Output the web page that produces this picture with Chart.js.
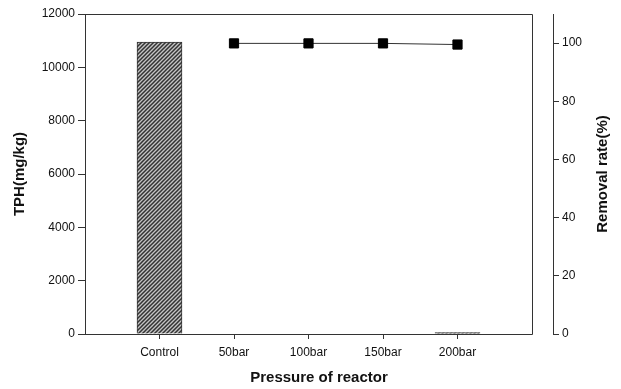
<!DOCTYPE html>
<html lang="en">
<head>
    <meta charset="UTF-8">
    <title>TPH and removal rate</title>
    <style>
        * {
            margin: 0;
            padding: 0;
        }

        body {
            background: #fff;
        }
    </style>
</head>
<body>
    <canvas id="chart" width="621" height="389"></canvas>

    <script src="https://cdn.jsdelivr.net/npm/chart.js"></script>
    <script>
        // Data
        const categories = ['Control', '50bar', '100bar', '150bar', '200bar'];
        const tph = [10950, 0, 0, 0, 50];
        const removalRate = [null, 99.9, 99.9, 99.9, 99.5];
        const tphTicks = [0, 2000, 4000, 6000, 8000, 10000, 12000];
        const rateTicks = [0, 20, 40, 60, 80, 100];
        const rightTitle = 'Removal rate(%)';

        const axisColor = '#333';
        const fontFamily = "'Liberation Sans', Arial, sans-serif";
        const font = { family: fontFamily, size: 12 };
        const titleFont = { family: fontFamily, size: 15, weight: 'bold' };

        // x runs 0..6 inside the frame, the right axis sits a little further out
        const frameMax = 6;
        const xMax = frameMax * 468 / 447;

        // hatch for the bars
        function makeHatch() {
            const c = document.createElement('canvas');
            c.width = 4;
            c.height = 4;
            const g = c.getContext('2d');
            g.fillStyle = '#c4c4c4';
            g.fillRect(0, 0, 4, 4);
            g.strokeStyle = '#333';
            g.lineWidth = 1.5;
            g.beginPath();
            g.moveTo(0, 4); g.lineTo(4, 0);
            g.moveTo(-1, 1); g.lineTo(1, -1);
            g.moveTo(3, 5); g.lineTo(5, 3);
            g.stroke();
            return document.getElementById('chart').getContext('2d').createPattern(c, 'repeat');
        }

        // box around the plot (bottom, right, top) and the right axis title
        const framePlugin = {
            id: 'frame',
            afterDatasetsDraw(chart) {
                const ctx = chart.ctx;
                const xs = chart.scales.x;
                const area = chart.chartArea;
                const x0 = Math.round(xs.getPixelForValue(0)) + 0.5;
                const x1 = Math.round(xs.getPixelForValue(frameMax)) + 0.5;
                const top = Math.round(area.top) + 0.5;
                const bottom = Math.round(area.bottom) + 0.5;
                ctx.save();
                ctx.strokeStyle = axisColor;
                ctx.lineWidth = 1;
                ctx.beginPath();
                ctx.moveTo(x0, bottom);
                ctx.lineTo(x1, bottom);
                ctx.lineTo(x1, top);
                ctx.lineTo(x0, top);
                ctx.stroke();

                const y1 = chart.scales.y1;
                ctx.translate(y1.right - 18, (area.top + area.bottom) / 2);
                ctx.rotate(-Math.PI / 2);
                ctx.fillStyle = '#111';
                ctx.font = 'bold 15px ' + fontFamily;
                ctx.textAlign = 'center';
                ctx.textBaseline = 'middle';
                ctx.fillText(rightTitle, 0, 0);
                ctx.restore();
            }
        };

        const hatch = makeHatch();

        new Chart(document.getElementById('chart'), {
            data: {
                datasets: [{
                    type: 'line',
                    label: 'Removal rate',
                    data: categories.map((c, i) => ({ x: i + 1, y: removalRate[i] })),
                    yAxisID: 'y1',
                    borderColor: axisColor,
                    borderWidth: 1,
                    pointStyle: 'rect',
                    pointRadius: 6.5,
                    pointBackgroundColor: '#000',
                    pointBorderColor: '#000',
                    pointBorderWidth: 1,
                    order: 0
                }, {
                    type: 'bar',
                    label: 'TPH',
                    data: categories.map((c, i) => ({ x: i + 1, y: tph[i] })),
                    yAxisID: 'y',
                    backgroundColor: hatch,
                    borderColor: axisColor,
                    borderWidth: 1,
                    barThickness: 45,
                    order: 1
                }]
            },
            options: {
                responsive: false,
                animation: false,
                layout: { padding: { top: 14, left: 0, right: 0, bottom: 0 } },
                plugins: {
                    legend: { display: false },
                    tooltip: { enabled: false }
                },
                scales: {
                    x: {
                        type: 'linear',
                        offset: false,
                        min: 0,
                        max: xMax,
                        afterBuildTicks: s => { s.ticks = categories.map((c, i) => ({ value: i + 1 })); },
                        afterFit: s => { s.height = 55; },
                        ticks: {
                            autoSkip: false,
                            maxRotation: 0,
                            padding: 6,
                            color: '#111',
                            font: font,
                            callback: v => categories[v - 1]
                        },
                        grid: { offset: false, drawOnChartArea: false, tickLength: 5, color: axisColor },
                        border: { display: false },
                        title: {
                            display: true,
                            text: 'Pressure of reactor',
                            color: '#111',
                            font: titleFont,
                            padding: { top: 0, bottom: 2 }
                        }
                    },
                    y: {
                        position: 'left',
                        min: 0,
                        max: 12000,
                        afterBuildTicks: s => { s.ticks = tphTicks.map(v => ({ value: v })); },
                        afterFit: s => { s.width = 85; },
                        ticks: { color: '#111', font: font, padding: 3, callback: v => String(v) },
                        grid: { drawOnChartArea: false, tickLength: 7, color: axisColor },
                        border: { color: axisColor },
                        title: {
                            display: true,
                            text: 'TPH(mg/kg)',
                            color: '#111',
                            font: titleFont,
                            padding: { top: 11, bottom: 0 }
                        }
                    },
                    y1: {
                        position: 'right',
                        min: 0,
                        max: 110,
                        afterBuildTicks: s => { s.ticks = rateTicks.map(v => ({ value: v })); },
                        afterFit: s => { s.width = 68; },
                        ticks: { color: '#111', font: font, padding: 3, callback: v => String(v) },
                        grid: { drawOnChartArea: false, tickLength: 6, color: axisColor },
                        border: { color: axisColor }
                    }
                }
            },
            plugins: [framePlugin]
        });
    </script>
</body>
</html>
